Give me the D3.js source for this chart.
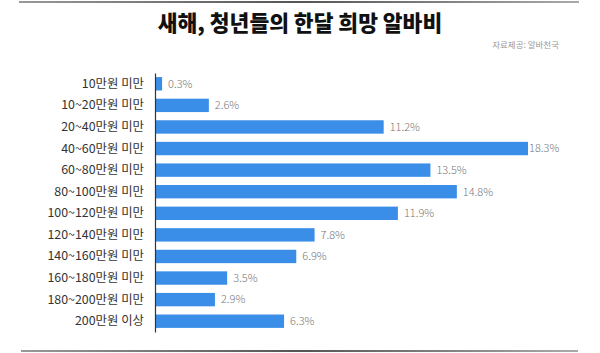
<!DOCTYPE html>
<html>
<head>
<meta charset="utf-8">
<script src="https://cdn.jsdelivr.net/npm/d3@7"></script>
<style>
  body { margin: 0; background: #fff; }
  svg { font-family: "Noto Sans CJK KR", "Noto Sans", sans-serif; display: block; }
</style>
</head>
<body>
<div id="wrapper"></div>
<script>
const categories = [
  "10만원 미만", "10~20만원 미만", "20~40만원 미만", "40~60만원 미만",
  "60~80만원 미만", "80~100만원 미만", "100~120만원 미만", "120~140만원 미만",
  "140~160만원 미만", "160~180만원 미만", "180~200만원 미만", "200만원 이상"
];
const values = [0.3, 2.6, 11.2, 18.3, 13.5, 14.8, 11.9, 7.8, 6.9, 3.5, 2.9, 6.3];
const valueLabels = ["0.3%", "2.6%", "11.2%", "18.3%", "13.5%", "14.8%", "11.9%", "7.8%", "6.9%", "3.5%", "2.9%", "6.3%"];

const title = "새해, 청년들의 한달 희망 알바비";
const source = "자료제공: 알바천국";

function drawBarChart() {
  const data = categories.map((c, i) => ({ cat: c, value: values[i], label: valueLabels[i] }));

  const dimensions = {
    width: 600,
    height: 353,
    margins: { top: 73, left: 156, bottom: 21, right: 73 }
  };

  const svg = d3.select("#wrapper").append("svg")
    .attr("width", dimensions.width)
    .attr("height", dimensions.height);

  // rules top and bottom
  const grad = svg.append("defs").append("linearGradient")
    .attr("id", "rule");
  grad.append("stop").attr("offset", "0%").attr("stop-color", "#999");
  grad.append("stop").attr("offset", "50%").attr("stop-color", "#555");
  grad.append("stop").attr("offset", "100%").attr("stop-color", "#aaa");

  svg.append("rect").attr("x", 19).attr("y", 1).attr("width", 560).attr("height", 2)
    .attr("fill", "url(#rule)");
  svg.append("rect").attr("x", 21).attr("y", 350).attr("width", 557).attr("height", 2)
    .attr("fill", "url(#rule)");

  svg.append("text")
    .attr("x", 300).attr("y", 31)
    .attr("text-anchor", "middle")
    .attr("font-size", 21.5).attr("font-weight", 900)
    .attr("fill", "#111")
    .text(title);

  svg.append("text")
    .attr("x", 559).attr("y", 48)
    .attr("text-anchor", "end")
    .attr("font-size", 8.5)
    .attr("fill", "#999")
    .text(source);

  const yScale = d3.scaleBand()
    .domain(categories)
    .range([73, 332])
    .paddingInner(0.38)
    .paddingOuter(0.19);

  const xScale = d3.scaleLinear()
    .domain([0, 18.3])
    .range([dimensions.margins.left, 528]);

  const bars = svg.append("g");
  bars.selectAll("rect")
    .data(data)
    .join("rect")
    .attr("x", xScale(0))
    .attr("y", d => yScale(d.cat))
    .attr("width", d => xScale(d.value) - xScale(0))
    .attr("height", yScale.bandwidth())
    .attr("fill", "#3a8ee8");

  bars.selectAll("text")
    .data(data)
    .join("text")
    .attr("x", d => xScale(d.value) + (d.value > 18 ? 1 : 6))
    .attr("y", d => yScale(d.cat) + yScale.bandwidth() / 2)
    .attr("dy", "0.35em")
    .attr("font-size", 11)
    .attr("font-weight", 300)
    .attr("fill", "#777")
    .text(d => d.label);

  // category axis
  const yAxis = svg.append("g")
    .attr("transform", `translate(${dimensions.margins.left - 1},0)`)
    .call(d3.axisLeft(yScale).tickSize(0).tickPadding(11));
  yAxis.select(".domain").attr("stroke", "#333").attr("stroke-width", 1.2);
  yAxis.selectAll("text")
    .attr("font-size", 12.4)
    .attr("fill", "#333")
    .attr("font-family", "\"Noto Sans CJK KR\", sans-serif");
}

drawBarChart();
</script>
</body>
</html>
